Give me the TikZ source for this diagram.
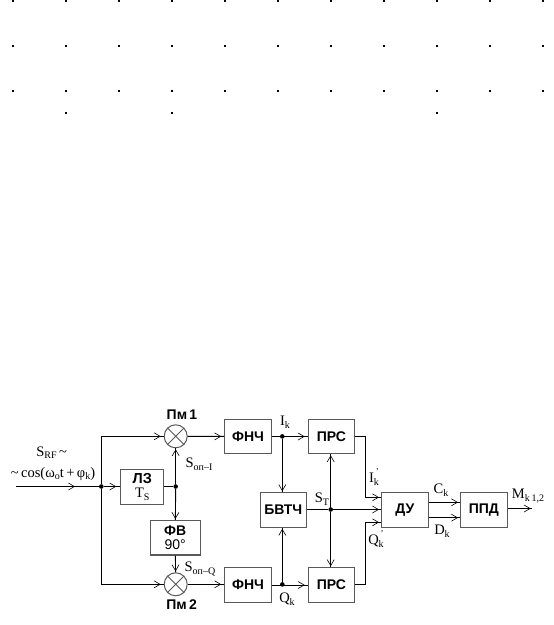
\documentclass[tikz,border=0pt]{standalone}
\usepackage{fontspec}
\setmainfont{Liberation Serif}
\setsansfont{Liberation Sans}
\usetikzlibrary{arrows.meta,decorations.markings}
\definecolor{boxgray}{gray}{0.35}
\tikzset{
    block/.style={draw=boxgray,line width=1.1pt,fill=white,inner sep=0pt,align=center,
        minimum width=46.5pt,minimum height=34.5pt,font=\sffamily\bfseries\fontsize{14}{15}\selectfont},
    mixer/.style={circle,draw=boxgray,line width=1pt,fill=white,minimum size=23pt,inner sep=0pt},
    junction/.style={circle,fill=black,minimum size=4.6pt,inner sep=0pt},
    wire/.style={line width=0.9pt},
    barb/.style={postaction={decorate,decoration={markings,
        mark=at position #1 with {\arrow{Straight Barb[length=6pt,width=7pt,line width=0.6pt]}}}}},
    caption/.style={inner sep=0pt,font=\fontsize{14.5}{15}\selectfont},
    mixname/.style={inner sep=0pt,font=\sffamily\bfseries\fontsize{14}{15}\selectfont}
}
\newcommand{\lowtext}[2]{#1\raisebox{-2.5pt}{\fontsize{10}{10}\selectfont #2}}
\begin{document}
\begin{tikzpicture}[x=1pt,y=-1pt]
    \useasboundingbox (0,0) rectangle (554,625);

    % dots
    \foreach \row in {1,45.7,90.7}{
        \foreach \col in {0,...,10}{
            \fill (13+53*\col-0.9,\row-0.9) rectangle ++(1.8,1.8);
        }
    }
    \foreach \col in {1,3,8}{
        \fill (13+53*\col-0.9,112.7-0.9) rectangle ++(1.8,1.8);
    }

    % blocks
    \node[mixer] (pm1) at (175.7,436.3) {};
    \node[mixer] (pm2) at (175.7,584.3) {};
    \node[block] (fnch1) at (248,436.5) {ФНЧ};
    \node[block] (fnch2) at (248,585) {ФНЧ};
    \node[block,minimum width=43pt,font=\fontsize{14.5}{15}\selectfont] (lz) at (142.3,487) {\textsf{\textbf{ЛЗ}}\\[-1pt]\lowtext{T}{S}};
    \node[block,minimum width=50pt,font=\fontsize{14}{15}\selectfont] (fv) at (175.2,537.7) {\textsf{\textbf{ФВ}}\\[-1pt]\textsf{\mdseries 90°}};
    \node[block] (bvtch) at (283.3,510) {БВТЧ};
    \node[block] (prs1) at (331.5,436.5) {ПРС};
    \node[block] (prs2) at (331.5,585) {ПРС};
    \node[block] (du) at (404.8,510) {ДУ};
    \node[block] (ppd) at (483.8,510) {ППД};

    % junctions
    \node[junction] (inj) at (101.3,486.5) {};
    \node[junction] (lzj) at (175.7,486.5) {};
    \node[junction] (ij) at (282.3,436.4) {};
    \node[junction] (qj) at (282.3,584.4) {};
    \node[junction] (stj) at (330.7,509.5) {};
    \coordinate (in) at (16,486.5);
    \coordinate (out) at (531.7,508.5);
    \coordinate (corn1) at (101.3,436.3);
    \coordinate (corn2) at (101.3,584.3);
    \coordinate (iturn) at (365,436.4);
    \coordinate (idown) at (365,497.3);
    \coordinate (qturn) at (365,584.4);
    \coordinate (qup) at (365,522.3);
    \coordinate (cy) at (0,502.3);
    \coordinate (dy) at (0,517.7);

    % connectors
    \begin{scope}[wire]
        \draw[barb=59pt] (in) -- (inj);
        \draw[barb=-4pt] (inj) -- (lz.west |- inj);
        \draw[barb=-3pt] (inj) -- (corn1) -- (pm1);
        \draw[barb=-3pt] (inj) -- (corn2) -- (pm2);
        \draw (lz.east |- lzj) -- (lzj);
        \draw[barb=-1pt] (lzj) -- (pm1);
        \draw[barb=-1pt] (lzj) -- (fv);
        \draw[barb=-1pt] (fv) -- (pm2);
        \draw[barb=-3pt] (pm1) -- (fnch1);
        \draw[barb=-3pt] (pm2) -- (fnch2.west |- pm2);
        \draw[barb=-3pt] (fnch1) -- (prs1);
        \draw[barb=-3pt] (fnch2) -- (prs2);
        \draw[barb=-1pt] (ij) -- (bvtch.north -| ij);
        \draw[barb=-1pt] (qj) -- (bvtch.south -| qj);
        \draw (bvtch.east |- stj) -- (stj);
        \draw[barb=-1pt] (stj) -- (prs1.south -| stj);
        \draw[barb=-1pt] (stj) -- (prs2.north -| stj);
        \draw[barb=-2pt] (stj) -- (du.west |- stj);
        \draw[barb=-2pt] (prs1.east |- iturn) -- (iturn) -- (idown) -- (du.west |- idown);
        \draw[barb=-2pt] (prs2.east |- qturn) -- (qturn) -- (qup) -- (du.west |- qup);
        \draw[barb=-2pt] (du.east |- cy) -- (ppd.west |- cy);
        \draw[barb=-2pt] (du.east |- dy) -- (ppd.west |- dy);
        \draw[barb=-1pt] (ppd.east |- out) -- (out);
    \end{scope}

    % crosses in the mixers
    \draw[wire,draw=boxgray] (pm1.north west) -- (pm1.south east) (pm1.north east) -- (pm1.south west);
    \draw[wire,draw=boxgray] (pm2.north west) -- (pm2.south east) (pm2.north east) -- (pm2.south west);

    % labels
    \node[mixname] (pm1name) at (182,415) {Пм\,1};
    \node[mixname] (pm2name) at (181.7,605) {Пм\,2};
    \node[caption] (rf) at (51.7,452.7) {\lowtext{S}{RF}\,\textasciitilde};
    \node[caption] (cosine) at (53,474) {\textasciitilde\,cos(ω\raisebox{-2.5pt}{\fontsize{10}{10}\selectfont o}t\,+\,φ\raisebox{-2.5pt}{\fontsize{10}{10}\selectfont k})};
    \node[caption] (sopi) at (199,464) {\lowtext{S}{оп--I}};
    \node[caption] (sopq) at (200,569) {\lowtext{S}{оп--Q}};
    \node[caption] (ik) at (285,422) {\lowtext{I}{k}};
    \node[caption] (qk) at (287,599) {\lowtext{Q}{k}};
    \node[caption] (st) at (322,499) {\lowtext{S}{T}};
    \node[caption] (ikp) at (374,477) {\lowtext{I}{k}\llap{\raisebox{8pt}{\fontsize{9}{9}\selectfont '}}};
    \node[caption] (qkp) at (376,539) {\lowtext{Q}{k}\llap{\raisebox{8pt}{\fontsize{9}{9}\selectfont '}}};
    \node[caption] (ck) at (441,490) {\lowtext{C}{k}};
    \node[caption] (dk) at (442,531) {\lowtext{D}{k}};
    \node[caption] (mk) at (528,496) {\lowtext{M}{k\,1,2}};
\end{tikzpicture}
\end{document}
